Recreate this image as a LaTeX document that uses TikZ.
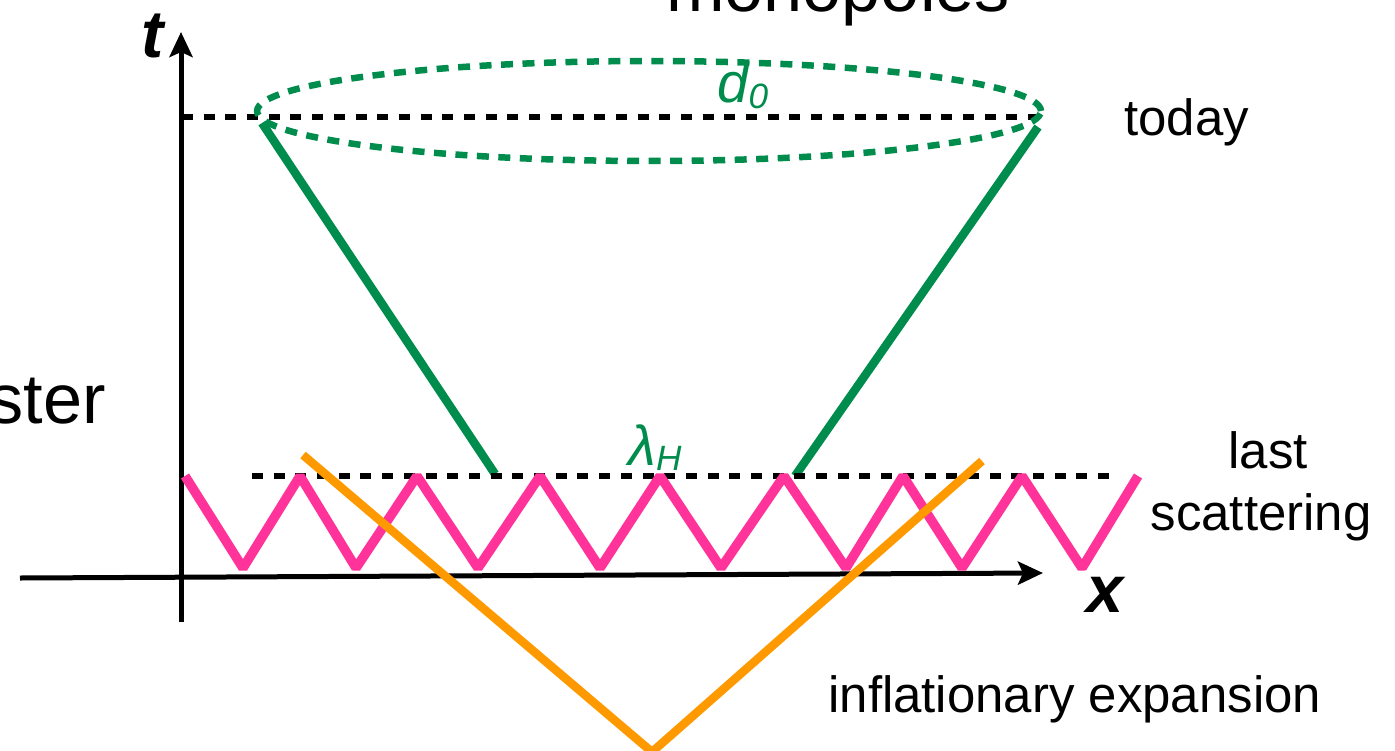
\documentclass[tikz,border=0pt]{standalone}
\usepackage{fontspec}
\setmainfont{Liberation Sans}
\usetikzlibrary{arrows.meta}
\definecolor{cgreen}{RGB}{0,140,76}
\definecolor{cpink}{RGB}{255,51,153}
\definecolor{corange}{RGB}{255,153,0}
\tikzset{
 axisline/.style={line width=0.1cm, -{Stealth[length=0.5cm,width=0.46cm,inset=0.1cm]}},
 blackdash/.style={line width=0.12cm, dash pattern=on 0.22cm off 0.214cm},
 greendash/.style={cgreen, line width=0.13cm, dash pattern=on 0.24cm off 0.19cm},
 cone/.style={cgreen, line width=0.17cm},
 wave/.style={cpink, line width=0.19cm, line join=bevel},
 inflation/.style={corange, line width=0.17cm},
 lbl/.style={inner sep=0pt, font=\fontsize{29}{35}\selectfont},
 biglbl/.style={inner sep=0pt, font=\fontsize{40}{48}\selectfont},
 axislbl/.style={inner sep=0pt, font=\fontsize{38}{44}\selectfont\bfseries\itshape},
 glbl/.style={inner sep=0pt, text=cgreen, font=\fontsize{32}{36}\selectfont\itshape},
}
\begin{document}
\begin{tikzpicture}[x=0.02cm,y=-0.02cm]
\useasboundingbox (0,0) rectangle (1395,750);
\clip (0,0) rectangle (1395,750);

% axes
\coordinate (tbot) at (181,622);
\coordinate (ttop) at (181,32);
\coordinate (xl) at (20,578);
\coordinate (xr) at (1043,573);
\draw[axisline] (tbot) -- (ttop);
\draw[axisline] (xl) -- (xr);
\node[axislbl, anchor=base west] (tlab) at (141,58) {t};
\node[axislbl, anchor=base west] (xlab) at (1086,612) {x};

% today line and horizon ellipse
\coordinate (todayL) at (182,117);
\coordinate (todayR) at (1042,117);
\draw[blackdash] (todayL) -- (todayR);
\draw[greendash] (649,111) ellipse [x radius=7.84cm, y radius=1.0cm];
\node[glbl, anchor=base west] (d0) at (717,103) {d\raisebox{-3pt}{\fontsize{20}{22}\selectfont 0}};

% light cone
\coordinate (coneLtop) at (262,123);
\coordinate (coneLbot) at (495,474);
\coordinate (coneRtop) at (1038,127);
\coordinate (coneRbot) at (795,476);
\draw[cone] (coneLtop) -- (coneLbot);
\draw[cone] (coneRtop) -- (coneRbot);

% last scattering line
\coordinate (lsL) at (252,476);
\coordinate (lsR) at (1113,476);
\draw[blackdash] (lsL) -- (lsR);
\node[glbl, anchor=base west] (lamH) at (628,465) {λ\raisebox{-3pt}{\fontsize{20}{22}\selectfont H}};

% zigzag
\draw[wave] (185,476) -- (243,568) -- (300,476) -- (356,568) -- (417,476) -- (478,568)
  -- (540,476) -- (600,568) -- (660,476) -- (721,568) -- (784,476) -- (846,568)
  -- (903,476) -- (962,568) -- (1022,476) -- (1082,568) -- (1138,476);

% inflation
\coordinate (infL) at (303,455);
\coordinate (infV) at (652,752);
\coordinate (infR) at (982,461);
\draw[inflation] (infL) -- (infV) -- (infR);

% labels
\node[biglbl, anchor=base] (mono) at (838,12) {monopoles};
\node[biglbl, anchor=base east] (ster) at (106,423) {ster};
\node[lbl, anchor=base west] (today) at (1124,135) {today};
\node[lbl, anchor=base] (last) at (1268,468) {last};
\node[lbl, anchor=base] (scat) at (1261,530) {scattering};
\node[lbl, anchor=base west] (infl) at (828,712) {inflationary expansion};
\end{tikzpicture}
\end{document}
